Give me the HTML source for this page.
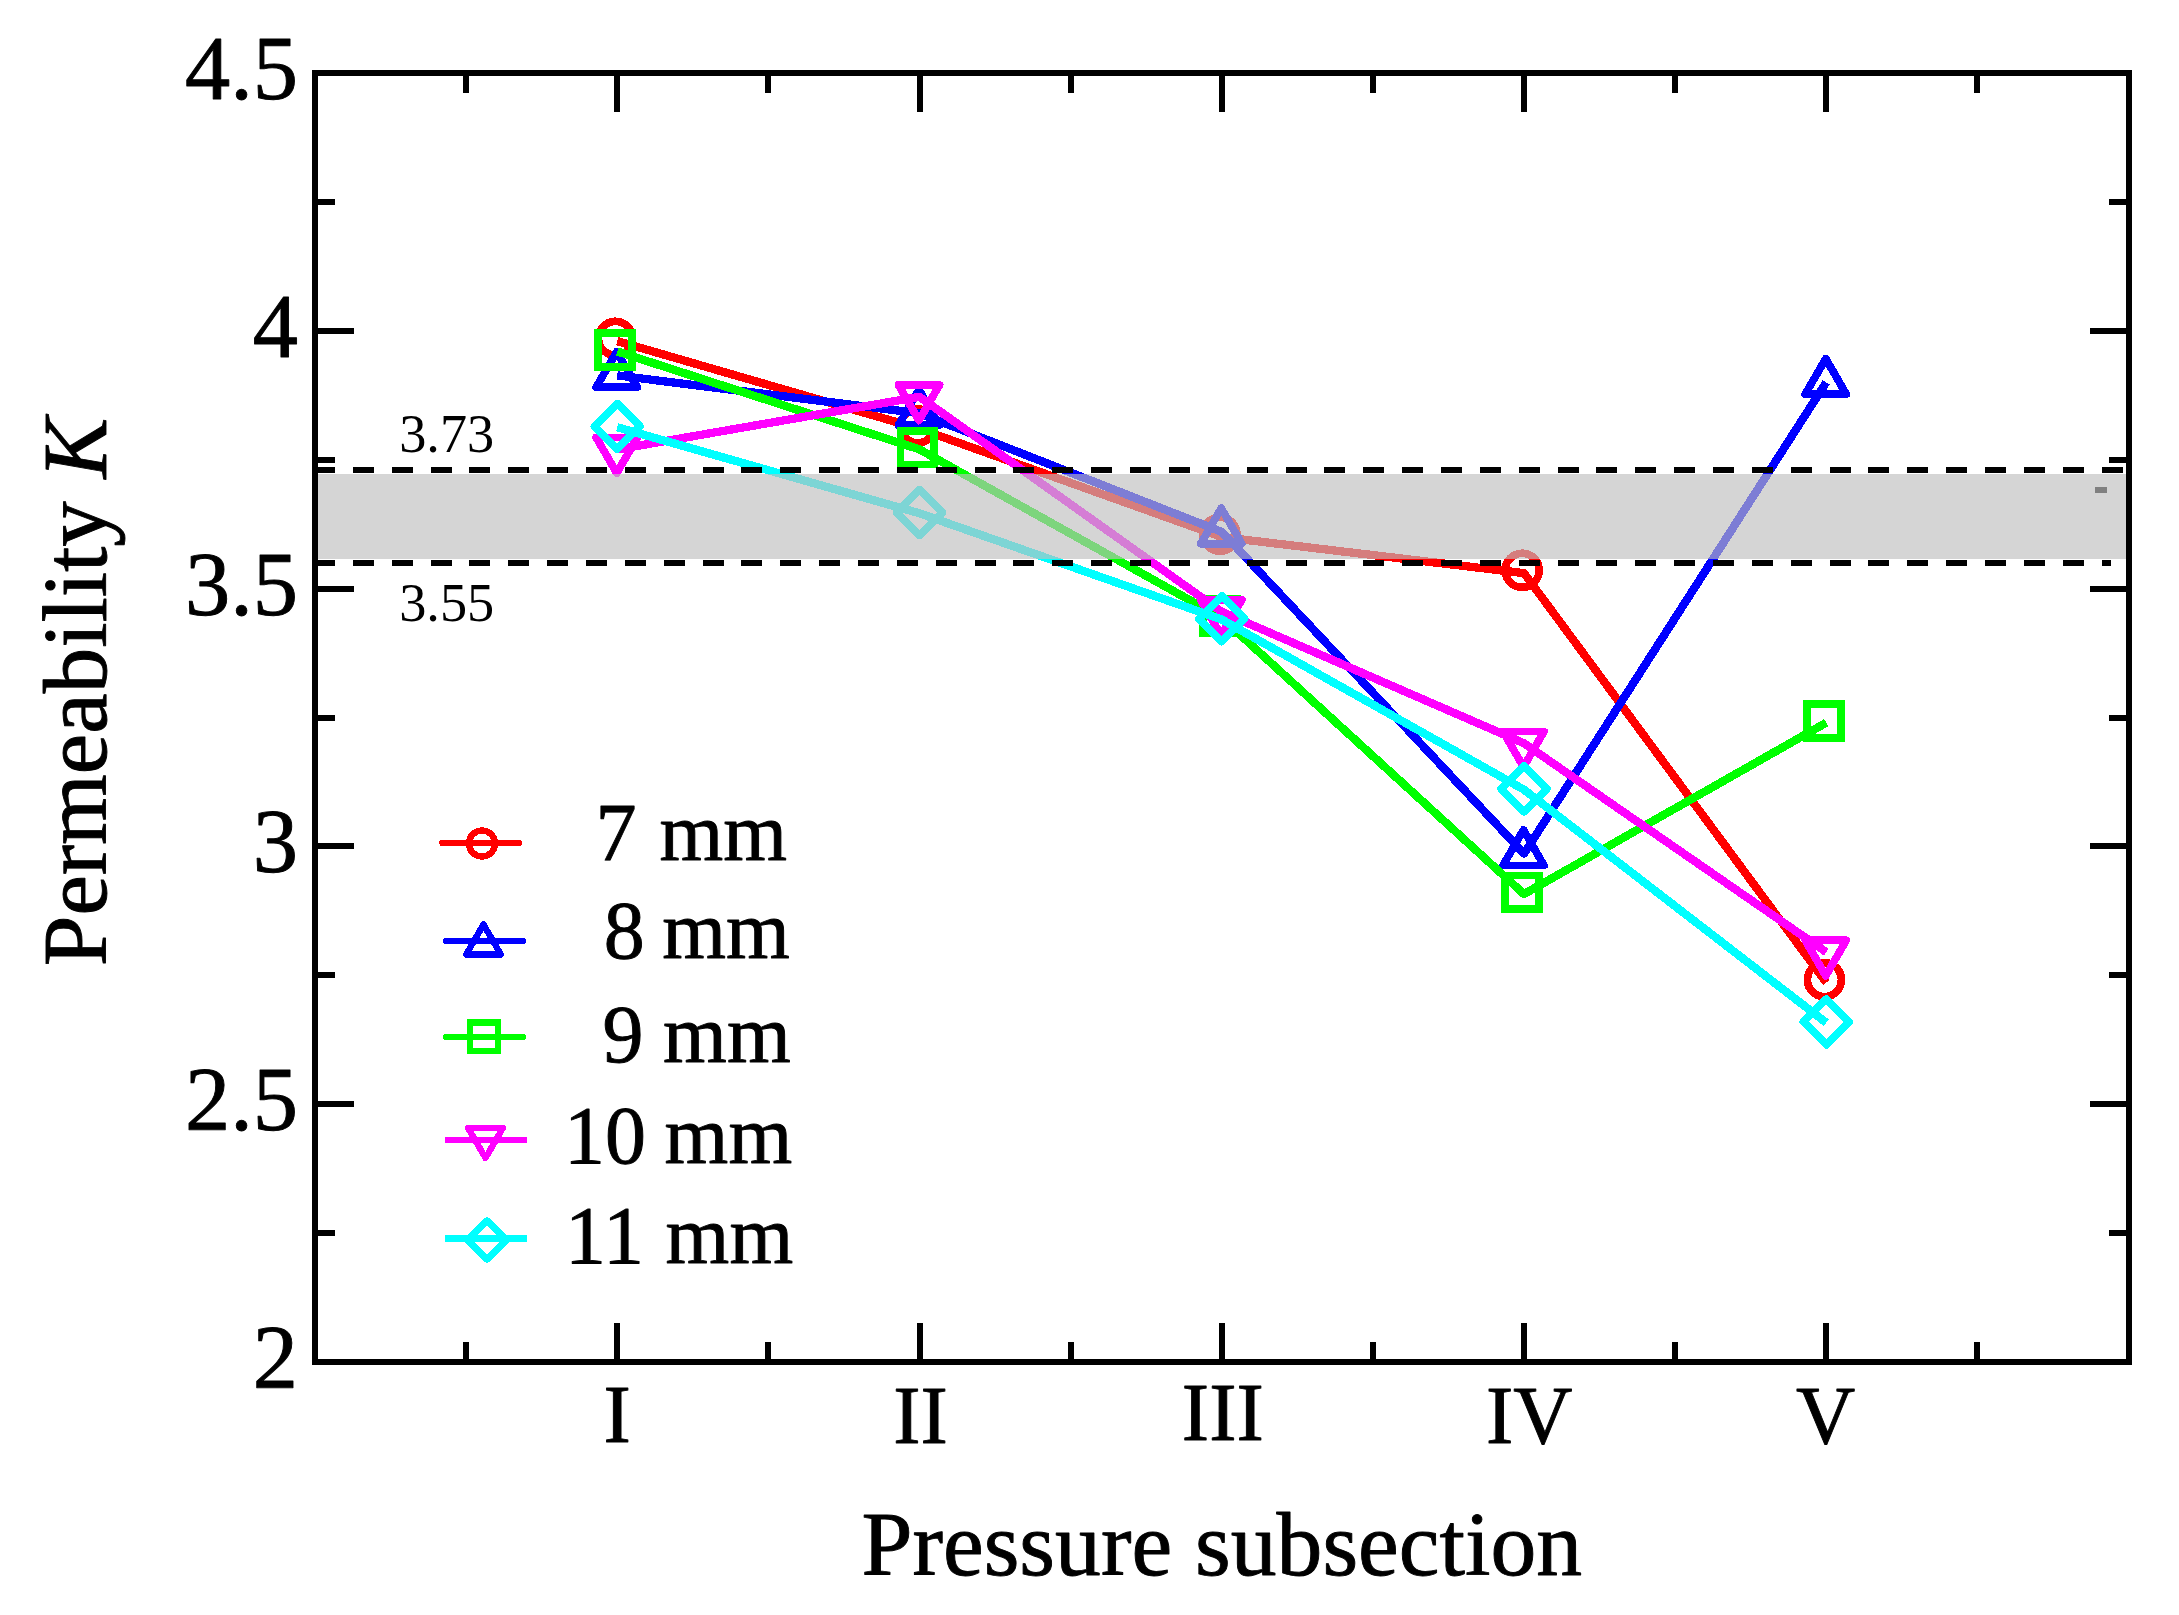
<!DOCTYPE html>
<html><head><meta charset="utf-8"><title>Permeability K vs Pressure subsection</title>
<style>html,body{margin:0;padding:0;background:#fff}body{width:2179px;height:1615px;overflow:hidden}</style></head>
<body>
<svg width="2179" height="1615" viewBox="0 0 2179 1615" style="display:block" shape-rendering="crispEdges">
<rect width="2179" height="1615" fill="#fff"/>
<polyline points="617.25,341.11 919.50,428.76 1221.75,537.04 1524.00,573.13 1826.25,982.52" fill="none" stroke="#ff0000" stroke-width="8.3" stroke-linejoin="round" stroke-linecap="butt"/>
<circle cx="615.45" cy="338.31" r="17.00" fill="none" stroke="#ff0000" stroke-width="7.8"/>
<circle cx="917.70" cy="425.96" r="17.00" fill="none" stroke="#ff0000" stroke-width="7.8"/>
<circle cx="1219.95" cy="534.24" r="17.00" fill="none" stroke="#ff0000" stroke-width="7.8"/>
<circle cx="1522.20" cy="570.33" r="17.00" fill="none" stroke="#ff0000" stroke-width="7.8"/>
<circle cx="1824.45" cy="979.72" r="17.00" fill="none" stroke="#ff0000" stroke-width="7.8"/>
<polyline points="617.25,375.40 919.50,413.30 1221.75,531.88 1524.00,853.62 1826.25,382.36" fill="none" stroke="#0000ff" stroke-width="8.3" stroke-linejoin="round" stroke-linecap="butt"/>
<polygon points="616.75,351.70 637.27,387.25 596.23,387.25" fill="none" stroke="#0000ff" stroke-width="7.8" stroke-linejoin="round"/>
<polygon points="919.00,389.60 939.52,425.15 898.48,425.15" fill="none" stroke="#0000ff" stroke-width="7.8" stroke-linejoin="round"/>
<polygon points="1221.25,508.18 1241.77,543.73 1200.73,543.73" fill="none" stroke="#0000ff" stroke-width="7.8" stroke-linejoin="round"/>
<polygon points="1523.50,829.92 1544.02,865.47 1502.98,865.47" fill="none" stroke="#0000ff" stroke-width="7.8" stroke-linejoin="round"/>
<polygon points="1825.75,358.66 1846.27,394.21 1805.23,394.21" fill="none" stroke="#0000ff" stroke-width="7.8" stroke-linejoin="round"/>
<polyline points="617.25,351.42 919.50,449.39 1221.75,617.99 1524.00,894.09 1826.25,722.66" fill="none" stroke="#00ff00" stroke-width="8.3" stroke-linejoin="round" stroke-linecap="butt"/>
<rect x="598.35" y="332.82" width="33.80" height="33.80" fill="none" stroke="#00ff00" stroke-width="7.8" stroke-linejoin="miter"/>
<rect x="900.60" y="430.79" width="33.80" height="33.80" fill="none" stroke="#00ff00" stroke-width="7.8" stroke-linejoin="miter"/>
<rect x="1202.85" y="599.39" width="33.80" height="33.80" fill="none" stroke="#00ff00" stroke-width="7.8" stroke-linejoin="miter"/>
<rect x="1505.10" y="875.49" width="33.80" height="33.80" fill="none" stroke="#00ff00" stroke-width="7.8" stroke-linejoin="miter"/>
<rect x="1807.35" y="704.06" width="33.80" height="33.80" fill="none" stroke="#00ff00" stroke-width="7.8" stroke-linejoin="miter"/>
<polyline points="617.25,449.39 919.50,396.80 1221.75,611.80 1524.00,743.28 1826.25,952.10" fill="none" stroke="#ff00ff" stroke-width="8.3" stroke-linejoin="round" stroke-linecap="butt"/>
<polygon points="616.75,473.09 637.27,437.54 596.23,437.54" fill="none" stroke="#ff00ff" stroke-width="7.8" stroke-linejoin="round"/>
<polygon points="919.00,420.50 939.52,384.95 898.48,384.95" fill="none" stroke="#ff00ff" stroke-width="7.8" stroke-linejoin="round"/>
<polygon points="1221.25,635.50 1241.77,599.95 1200.73,599.95" fill="none" stroke="#ff00ff" stroke-width="7.8" stroke-linejoin="round"/>
<polygon points="1523.50,766.98 1544.02,731.43 1502.98,731.43" fill="none" stroke="#ff00ff" stroke-width="7.8" stroke-linejoin="round"/>
<polygon points="1825.75,975.80 1846.27,940.25 1805.23,940.25" fill="none" stroke="#ff00ff" stroke-width="7.8" stroke-linejoin="round"/>
<polyline points="617.25,427.22 919.50,513.32 1221.75,619.54 1524.00,789.68 1826.25,1022.74" fill="none" stroke="#00ffff" stroke-width="8.3" stroke-linejoin="round" stroke-linecap="butt"/>
<polygon points="617.25,403.62 640.05,426.42 617.25,449.22 594.45,426.42" fill="none" stroke="#00ffff" stroke-width="7.8" stroke-linejoin="round"/>
<polygon points="919.50,489.72 942.30,512.52 919.50,535.32 896.70,512.52" fill="none" stroke="#00ffff" stroke-width="7.8" stroke-linejoin="round"/>
<polygon points="1221.75,595.94 1244.55,618.74 1221.75,641.54 1198.95,618.74" fill="none" stroke="#00ffff" stroke-width="7.8" stroke-linejoin="round"/>
<polygon points="1524.00,766.08 1546.80,788.88 1524.00,811.68 1501.20,788.88" fill="none" stroke="#00ffff" stroke-width="7.8" stroke-linejoin="round"/>
<polygon points="1826.25,999.14 1849.05,1021.94 1826.25,1044.74 1803.45,1021.94" fill="none" stroke="#00ffff" stroke-width="7.8" stroke-linejoin="round"/>
<rect x="318" y="474" width="1808" height="85" fill="rgb(191,191,191)" fill-opacity="0.655"/>
<line x1="314" y1="470" x2="2124" y2="470" stroke="#000" stroke-width="6" stroke-dasharray="21 17.86"/>
<line x1="314" y1="563" x2="2111" y2="563" stroke="#000" stroke-width="6" stroke-dasharray="21 17.86"/>
<rect x="2095" y="487" width="12" height="6" fill="#808080"/>
<g stroke="#000" stroke-width="6" fill="none" shape-rendering="crispEdges">
<rect x="315" y="73" width="1814" height="1289"/>
<line x1="466.12" y1="73" x2="466.12" y2="92.7"/>
<line x1="466.12" y1="1362" x2="466.12" y2="1342.3"/>
<line x1="617.25" y1="73" x2="617.25" y2="112.4"/>
<line x1="617.25" y1="1362" x2="617.25" y2="1322.6"/>
<line x1="768.38" y1="73" x2="768.38" y2="92.7"/>
<line x1="768.38" y1="1362" x2="768.38" y2="1342.3"/>
<line x1="919.50" y1="73" x2="919.50" y2="112.4"/>
<line x1="919.50" y1="1362" x2="919.50" y2="1322.6"/>
<line x1="1070.62" y1="73" x2="1070.62" y2="92.7"/>
<line x1="1070.62" y1="1362" x2="1070.62" y2="1342.3"/>
<line x1="1221.75" y1="73" x2="1221.75" y2="112.4"/>
<line x1="1221.75" y1="1362" x2="1221.75" y2="1322.6"/>
<line x1="1372.88" y1="73" x2="1372.88" y2="92.7"/>
<line x1="1372.88" y1="1362" x2="1372.88" y2="1342.3"/>
<line x1="1524.00" y1="73" x2="1524.00" y2="112.4"/>
<line x1="1524.00" y1="1362" x2="1524.00" y2="1322.6"/>
<line x1="1675.12" y1="73" x2="1675.12" y2="92.7"/>
<line x1="1675.12" y1="1362" x2="1675.12" y2="1342.3"/>
<line x1="1826.25" y1="73" x2="1826.25" y2="112.4"/>
<line x1="1826.25" y1="1362" x2="1826.25" y2="1322.6"/>
<line x1="1977.38" y1="73" x2="1977.38" y2="92.7"/>
<line x1="1977.38" y1="1362" x2="1977.38" y2="1342.3"/>
<line x1="315" y1="1233.10" x2="334.7" y2="1233.10"/>
<line x1="2129" y1="1233.10" x2="2109.3" y2="1233.10"/>
<line x1="315" y1="1104.20" x2="354.4" y2="1104.20"/>
<line x1="2129" y1="1104.20" x2="2089.6" y2="1104.20"/>
<line x1="315" y1="975.30" x2="334.7" y2="975.30"/>
<line x1="2129" y1="975.30" x2="2109.3" y2="975.30"/>
<line x1="315" y1="846.40" x2="354.4" y2="846.40"/>
<line x1="2129" y1="846.40" x2="2089.6" y2="846.40"/>
<line x1="315" y1="717.50" x2="334.7" y2="717.50"/>
<line x1="2129" y1="717.50" x2="2109.3" y2="717.50"/>
<line x1="315" y1="588.60" x2="354.4" y2="588.60"/>
<line x1="2129" y1="588.60" x2="2089.6" y2="588.60"/>
<line x1="315" y1="459.70" x2="334.7" y2="459.70"/>
<line x1="2129" y1="459.70" x2="2109.3" y2="459.70"/>
<line x1="315" y1="330.80" x2="354.4" y2="330.80"/>
<line x1="2129" y1="330.80" x2="2089.6" y2="330.80"/>
<line x1="315" y1="201.90" x2="334.7" y2="201.90"/>
<line x1="2129" y1="201.90" x2="2109.3" y2="201.90"/>
</g>
<line x1="442.5" y1="842.8" x2="518.8" y2="842.8" stroke="#ff0000" stroke-width="6.6" stroke-linecap="round"/>
<circle cx="482.00" cy="843.50" r="13.00" fill="none" stroke="#ff0000" stroke-width="6.4"/>
<line x1="446.2" y1="940.9" x2="522.9" y2="940.9" stroke="#0000ff" stroke-width="6.6" stroke-linecap="round"/>
<polygon points="483.50,924.50 500.82,954.50 466.18,954.50" fill="none" stroke="#0000ff" stroke-width="6.4" stroke-linejoin="round"/>
<line x1="446.2" y1="1037" x2="522.9" y2="1037" stroke="#00ff00" stroke-width="6.6" stroke-linecap="round"/>
<rect x="470.00" y="1022.60" width="28.20" height="28.20" fill="none" stroke="#00ff00" stroke-width="6.4" stroke-linejoin="miter"/>
<line x1="445.1" y1="1140.1" x2="527.2" y2="1140.1" stroke="#ff00ff" stroke-width="6.6"/>
<polygon points="485.50,1158.00 502.82,1128.00 468.18,1128.00" fill="none" stroke="#ff00ff" stroke-width="6.4" stroke-linejoin="round"/>
<line x1="445.1" y1="1238.4" x2="527.2" y2="1238.4" stroke="#00ffff" stroke-width="6.6"/>
<polygon points="487.00,1220.50 506.50,1240.00 487.00,1259.50 467.50,1240.00" fill="none" stroke="#00ffff" stroke-width="6.4" stroke-linejoin="round"/>
<g font-family="'Liberation Serif', 'Times New Roman', serif" fill="#000" stroke="#000" stroke-width="0.9" stroke-linejoin="round">
<text x="298" y="99.0" font-size="90.5" text-anchor="end">4.5</text>
<text x="298" y="356.8" font-size="90.5" text-anchor="end">4</text>
<text x="298" y="614.6" font-size="90.5" text-anchor="end">3.5</text>
<text x="298" y="872.4" font-size="90.5" text-anchor="end">3</text>
<text x="298" y="1130.2" font-size="90.5" text-anchor="end">2.5</text>
<text x="298" y="1388.0" font-size="90.5" text-anchor="end">2</text>
<text x="617.2" y="1442.3" font-size="82" text-anchor="middle">I</text>
<text x="920.5" y="1443.4" font-size="82" text-anchor="middle">II</text>
<text x="1222.8" y="1439.8" font-size="82" text-anchor="middle">III</text>
<text x="1529.3" y="1442.8" font-size="82" text-anchor="middle">IV</text>
<text x="1825.5" y="1442.8" font-size="82" text-anchor="middle">V</text>
<text x="1221.8" y="1574.9" font-size="91.7" text-anchor="middle">Pressure subsection</text>
<text transform="translate(105.7,692) rotate(-90)" font-size="91" text-anchor="middle">Permeability <tspan font-style="italic">K</tspan></text>
<text x="399.2" y="452.2" font-size="54.3" stroke="none">3.73</text>
<text x="399.2" y="620.7" font-size="54.3" stroke="none">3.55</text>
<text x="595.5" y="860.3" font-size="82">7</text>
<text x="787" y="860.3" font-size="82" text-anchor="end">mm</text>
<text x="603.7" y="958" font-size="82">8</text>
<text x="789.8" y="958" font-size="82" text-anchor="end">mm</text>
<text x="602.6" y="1062" font-size="82">9</text>
<text x="790.7" y="1062" font-size="82" text-anchor="end">mm</text>
<text x="563.9" y="1163" font-size="82">10</text>
<text x="792.2" y="1163" font-size="82" text-anchor="end">mm</text>
<text x="565.1" y="1262.6" font-size="82">11</text>
<text x="793.2" y="1262.6" font-size="82" text-anchor="end">mm</text>
</g>
</svg>
</body></html>
